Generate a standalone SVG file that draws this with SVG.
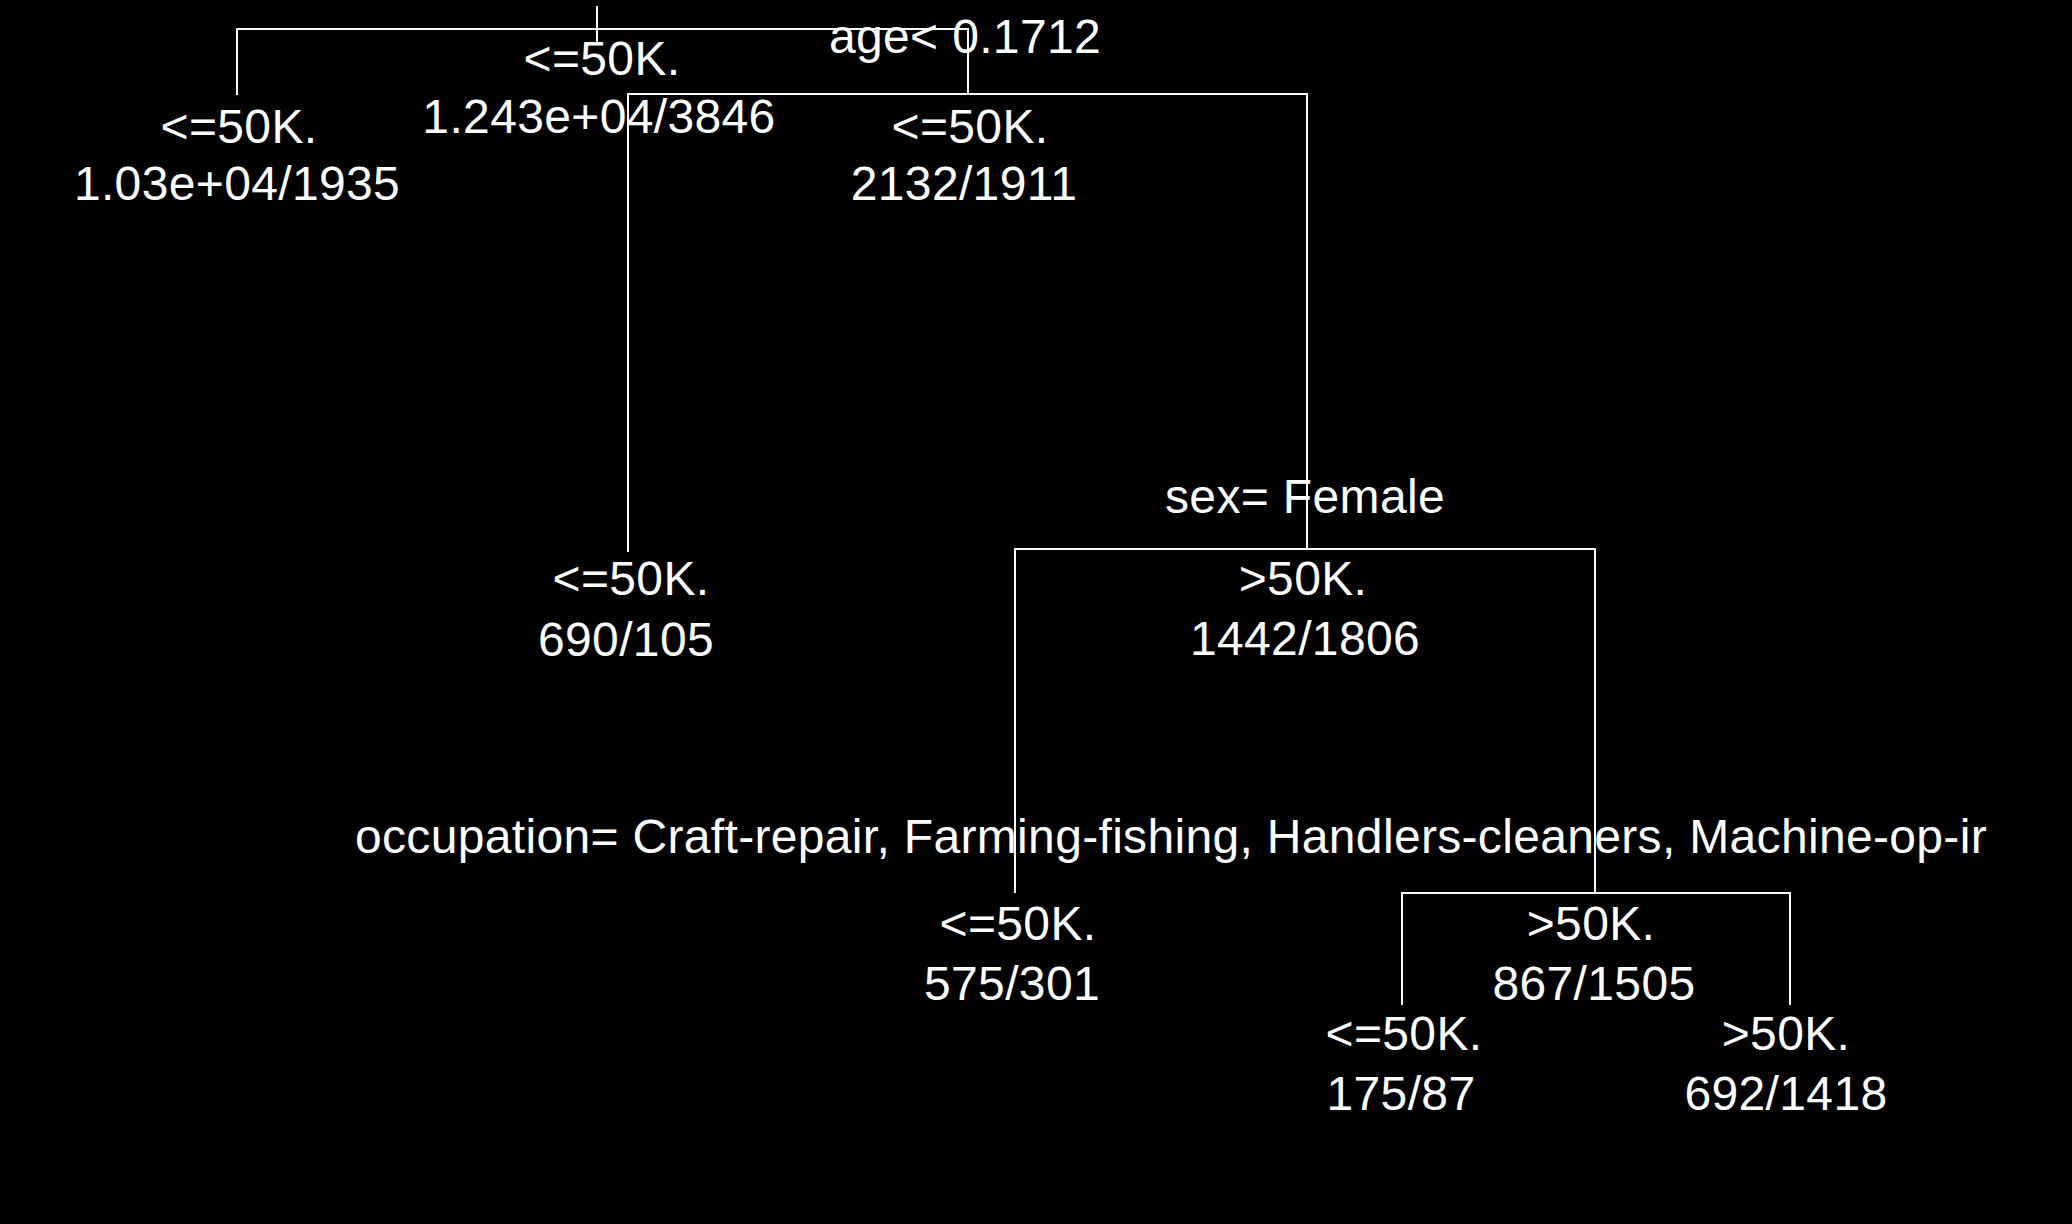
<svg xmlns="http://www.w3.org/2000/svg" width="2072" height="1224" viewBox="0 0 2072 1224">
  <style>
    text { font-family: "Liberation Sans", Arial, sans-serif; font-size: 48px; fill: #ffffff; text-anchor: middle; letter-spacing: 0.35px; }
    .conn { stroke: #ffffff; stroke-width: 2; fill: none; }
  </style>
  <rect x="0" y="0" width="2072" height="1224" fill="#000000"/>
  <g id="connectors" class="conn">
    <path d="M597,6 V43"/>
    <path d="M237,95 V29 H968 V94"/>
    <path d="M628,552 V94 H1307 V549"/>
    <path d="M1015,893 V549 H1595 V893"/>
    <path d="M1402,1005 V893 H1790 V1005"/>
  </g>
  <g id="split-age"><text x="965" y="53">age&lt; 0.1712</text></g>
  <g id="split-sex"><text x="1305" y="513">sex= Female</text></g>
  <g id="split-occupation"><text x="355" y="853" style="text-anchor:start" textLength="1632" lengthAdjust="spacing">occupation= Craft-repair, Farming-fishing, Handlers-cleaners, Machine-op-ir</text></g>
  <g id="node-root"><text x="602" y="75">&lt;=50K.</text><text x="599" y="133">1.243e+04/3846</text></g>
  <g id="node-left"><text x="239" y="143">&lt;=50K.</text><text x="237" y="200">1.03e+04/1935</text></g>
  <g id="node-age-right"><text x="970" y="143">&lt;=50K.</text><text x="964" y="200">2132/1911</text></g>
  <g id="node-690"><text x="631" y="595">&lt;=50K.</text><text x="626" y="656">690/105</text></g>
  <g id="node-sex"><text x="1303" y="595">&gt;50K.</text><text x="1305" y="655">1442/1806</text></g>
  <g id="node-575"><text x="1018" y="940">&lt;=50K.</text><text x="1012" y="1000">575/301</text></g>
  <g id="node-867"><text x="1591" y="940">&gt;50K.</text><text x="1594" y="1000">867/1505</text></g>
  <g id="node-175"><text x="1404" y="1050">&lt;=50K.</text><text x="1401" y="1110">175/87</text></g>
  <g id="node-692"><text x="1786" y="1050">&gt;50K.</text><text x="1786" y="1110">692/1418</text></g>
</svg>
